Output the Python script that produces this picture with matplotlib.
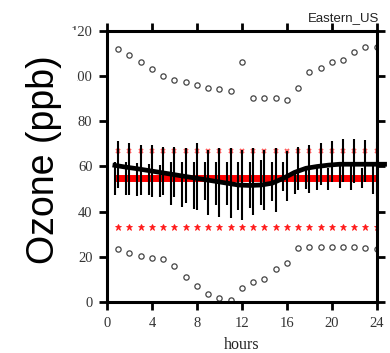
import numpy as np
import matplotlib
matplotlib.use('Agg')
import matplotlib.pyplot as plt
from matplotlib.patches import Rectangle

# heures de la journee
hours = np.arange(1, 25)

# enveloppe haute / basse (cercles)
o3_max = [112.2, 109.2, 106.1, 103.0, 100.1, 98.3, 97.4, 96.2, 94.6, 94.2, 93.4, 106.4,
          90.5, 90.5, 90.5, 89.5, 94.6, 101.7, 103.5, 106.1, 107.2, 110.6, 113.1, 113.1]
o3_min = [23.3, 21.8, 20.5, 19.6, 18.9, 16.1, 11.2, 7.1, 3.5, 1.6, 0.9, 6.1,
          8.7, 10.3, 14.5, 17.4, 24.1, 24.5, 24.5, 24.5, 24.5, 24.5, 24.1, 23.5]

# valeurs "rouges" (constantes)
red_hi = [67.0] * 24
red_mid = [54.8] * 24
red_lo = [33.3] * 24

# courbe moyenne (noire), decalee de -0.3 h, un point de plus a la fin
mean_o3 = [60.5, 59.7, 59.0, 58.2, 57.4, 56.6, 55.8, 55.0, 54.2, 53.4, 52.6, 51.8,
           51.6, 51.8, 52.6, 54.8, 57.4, 59.2, 60.0, 60.6, 61.0, 61.0, 61.0, 61.0, 61.0]

# barres verticales a h-0.3
barA_lo = [47.5, 47.5, 47.0, 47.5, 46.5, 43.0, 42.0, 41.0, 45.0, 43.0, 43.0, 40.7,
           41.5, 43.0, 44.5, 49.0, 48.0, 50.0, 49.6, 49.6, 50.3, 49.6, 50.3, 48.0]
barA_hi = [62.0, 62.0, 61.5, 61.0, 60.5, 62.0, 62.0, 62.0, 62.0, 62.0, 62.0, 62.0,
           62.0, 63.0, 62.0, 62.0, 58.0, 59.0, 59.2, 59.2, 60.0, 60.0, 59.2, 60.0]
# barres verticales a h
barB_lo = [50.3, 47.4, 47.4, 46.7, 47.4, 46.7, 43.7, 40.7, 38.5, 37.8, 37.1, 36.3,
           38.5, 40.7, 40.0, 44.5, 49.6, 48.1, 51.8, 53.3, 53.3, 52.5, 53.3, 47.0]
barB_hi = [71.3, 70.3, 69.5, 69.5, 68.8, 68.8, 68.0, 70.3, 67.3, 68.0, 68.0, 67.3,
           68.0, 67.3, 68.0, 67.0, 68.8, 69.5, 70.3, 71.3, 72.2, 72.2, 71.8, 71.0]

serif = 'Liberation Serif'

fig = plt.figure(figsize=(3.9, 3.53), dpi=100)
ax = fig.add_axes([0.2744, 0.1445, 0.6915, 0.7677])

ax.plot(hours, o3_max, 'o', ms=3.8, mfc='none', mec='#444444', mew=0.9)
ax.plot(hours, o3_min, 'o', ms=3.8, mfc='none', mec='#444444', mew=0.9)

ax.plot(hours, red_hi, 'x', ms=3.2, mew=1.3, color='#ff2a2a', alpha=0.75)
ax.plot(hours, red_lo, '*', ms=4.5, mew=0.6, color='#ff1a1a')
ax.plot(np.append(hours[0] - 0.3, hours), np.append(red_mid[0], red_mid),
        '-', lw=5, color='red', solid_capstyle='butt')

ax.vlines(hours - 0.3, barA_lo, barA_hi, color='black', lw=1.5)
ax.vlines(hours, barB_lo, barB_hi, color='black', lw=1.5)

ax.plot(np.arange(1, 26) - 0.3, mean_o3, '-', color='black', lw=3.4, clip_on=False)

ax.set_xlim(0, 24)
ax.set_ylim(0, 120)
ax.set_xticks(range(0, 25, 4))
ax.set_yticks(range(0, 121, 20))
for s in ax.spines.values():
    s.set_linewidth(2.2)
ax.tick_params(direction='out', length=5.5, width=2, top=True, right=True,
               labelsize=10.5, labelcolor='#333333', pad=5)
for lab in ax.get_xticklabels() + ax.get_yticklabels():
    lab.set_family(serif)
ax.set_xlabel('hours', family=serif, fontsize=11.5, color='#222222', labelpad=5)

ax.text(1.008, 1.025, 'Eastern_US', transform=ax.transAxes, ha='right', va='bottom',
        fontsize=9.5, family='Liberation Sans', color='#222222')

# bloc blanc du label colle par-dessus
fig.patches.append(Rectangle((0, 0), 77 / 390, 1 - 30 / 353, transform=fig.transFigure,
                             facecolor='white', edgecolor='none', zorder=5))
fig.text(44 / 390, 1 - 160 / 353, 'Ozone (ppb)', rotation=90, ha='center', va='center',
         fontsize=27, family='Liberation Sans', zorder=6)

fig.savefig('out.png', dpi=100)
